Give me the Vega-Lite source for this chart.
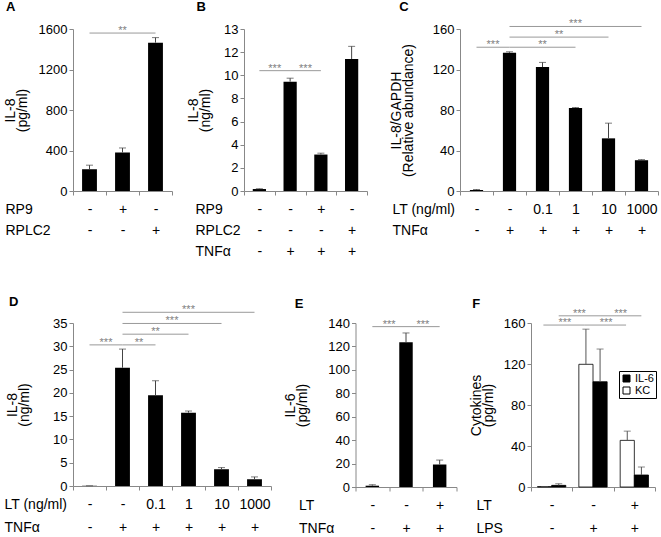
{
  "$schema": "https://vega.github.io/schema/vega-lite/v6.json",
  "padding": {"left": 3, "top": 0, "right": 0, "bottom": 0},
  "config": {
    "font": "Liberation Sans",
    "view": {"stroke": null},
    "axis": {"grid": false, "domainColor": "#888", "tickColor": "#888", "labelColor": "#000", "titleColor": "#000", "titleFontWeight": "normal", "titleFontSize": 14, "labelFontSize": 13, "tickSize": 4},
    "axisY": {"labelPadding": 2, "titleLineHeight": 12, "labelOverlap": false, "tickCount": 20},
    "axisX": {"labelAngle": 0, "labelFontSize": 14, "tickBand": "extent", "labelPadding": 7, "titleAlign": "left", "titleBaseline": "top", "titleAngle": 0, "titleY": 11, "titleFontSize": 14},
    "title": {"fontSize": 13, "fontWeight": "bold", "anchor": "start", "color": "#000", "frame": "bounds"},
    "text": {"fontSize": 11, "color": "#808080", "baseline": "alphabetic", "dy": 1},
    "legend": {"labelFontSize": 12}
  },
  "spacing": 37,
  "resolve": {"legend": {"color": "independent"}},
  "vconcat": [
    {
      "spacing": 21,
      "hconcat": [
        {
          "spacing": 13,
          "hconcat": [
            {
              "title": {"text": "A", "dx": 3, "offset": 9.5},
              "width": 99, "height": 162,
              "data": {"values": [
                {"cond": "-|-", "v": 215, "hi": 255},
                {"cond": "+|-", "v": 380, "hi": 425},
                {"cond": "-|+", "v": 1465, "hi": 1515}
              ]},
              "layer": [
                {"mark": {"type": "bar", "color": "black", "width": {"band": 0.45}},
                 "encoding": {
                   "x": {"field": "cond", "type": "nominal", "scale": {"domain": ["-|-", "+|-", "-|+"], "paddingInner": 0, "paddingOuter": 0},
                         "axis": {"title": ["RP9", "RPLC2"], "labelExpr": "split(datum.label, '|')", "labelLineHeight": 21, "titleLineHeight": 21, "titleX": -68}},
                   "y": {"field": "v", "type": "quantitative", "scale": {"domain": [0, 1600], "nice": false},
                         "axis": {"title": ["IL-8", "(pg/ml)"], "values": [0, 400, 800, 1200, 1600], "tickCount": 20, "format": "d", "labelOverlap": false, "titlePadding": 9}}}},
                {"mark": {"type": "rule", "color": "#444"},
                 "encoding": {"x": {"field": "cond", "type": "nominal"}, "y": {"field": "v", "type": "quantitative"}, "y2": {"field": "hi"}}},
                {"mark": {"type": "tick", "color": "#444", "size": 7, "thickness": 1},
                 "encoding": {"x": {"field": "cond", "type": "nominal"}, "y": {"field": "hi", "type": "quantitative"}}},
                {"data": {"values": [{"from": "-|-", "to": "-|+", "y": 1560, "s": "**", "at": "+|-", "mid": "center"}]},
                 "layer": [
                   {"mark": {"type": "rule", "color": "#999"},
                    "encoding": {"x": {"field": "from", "type": "nominal", "bandPosition": 0.5}, "x2": {"field": "to", "bandPosition": 0.5}, "y": {"field": "y", "type": "quantitative"}}},
                   {"mark": {"type": "text"},
                    "encoding": {"x": {"field": "at", "type": "nominal", "bandPosition": 0.5}, "y": {"field": "y", "type": "quantitative"}, "text": {"field": "s"}}}
                 ]}
              ]
            },
            {
              "title": {"text": "B", "dx": 10, "offset": 9.5},
              "width": 123, "height": 162,
              "data": {"values": [
                {"cond": "-|-|-", "v": 0.17, "hi": 0.2},
                {"cond": "-|-|+", "v": 9.45, "hi": 9.75},
                {"cond": "+|-|+", "v": 3.15, "hi": 3.27},
                {"cond": "-|+|+", "v": 11.4, "hi": 12.5}
              ]},
              "layer": [
                {"mark": {"type": "bar", "color": "black", "width": {"band": 0.43}},
                 "encoding": {
                   "x": {"field": "cond", "type": "nominal", "scale": {"domain": ["-|-|-", "-|-|+", "+|-|+", "-|+|+"], "paddingInner": 0, "paddingOuter": 0},
                         "axis": {"title": ["RP9", "RPLC2", "TNFα"], "labelExpr": "split(datum.label, '|')", "labelLineHeight": 21, "titleLineHeight": 21, "titleX": -49}},
                   "y": {"field": "v", "type": "quantitative", "scale": {"domain": [0, 14], "nice": false},
                         "axis": {"title": ["IL-8", "(ng/ml)"], "values": [0, 2, 4, 6, 8, 10, 12, 14], "tickCount": 20, "format": "d", "labelExpr": "datum.value == 14 ? '13' : datum.label", "labelOverlap": false, "titlePadding": 11}}}},
                {"mark": {"type": "rule", "color": "#444"},
                 "encoding": {"x": {"field": "cond", "type": "nominal"}, "y": {"field": "v", "type": "quantitative"}, "y2": {"field": "hi"}}},
                {"mark": {"type": "tick", "color": "#444", "size": 7, "thickness": 1},
                 "encoding": {"x": {"field": "cond", "type": "nominal"}, "y": {"field": "hi", "type": "quantitative"}}},
                {"data": {"values": [
                  {"from": "-|-|-", "to": "-|-|+", "y": 10.4, "s": "***", "at": "-|-|+", "mid": "edge"},
                  {"from": "-|-|+", "to": "+|-|+", "y": 10.4, "s": "***", "at": "+|-|+", "mid": "edge"}
                 ]},
                 "layer": [
                   {"mark": {"type": "rule", "color": "#999"},
                    "encoding": {"x": {"field": "from", "type": "nominal", "bandPosition": 0.5}, "x2": {"field": "to", "bandPosition": 0.5}, "y": {"field": "y", "type": "quantitative"}}},
                   {"mark": {"type": "text"},
                    "encoding": {"x": {"field": "at", "type": "nominal", "bandPosition": 0}, "y": {"field": "y", "type": "quantitative"}, "text": {"field": "s"}}}
                 ]}
              ]
            }
          ]
        },
        {
          "title": {"text": "C", "dx": 10, "offset": 4.5},
          "width": 198, "height": 162,
          "data": {"values": [
            {"cond": "-|-", "v": 1, "hi": 1.5},
            {"cond": "-|+", "v": 136.5, "hi": 137.5},
            {"cond": "0.1|+", "v": 122.4, "hi": 127},
            {"cond": "1|+", "v": 82, "hi": 82.5},
            {"cond": "10|+", "v": 52, "hi": 67},
            {"cond": "1000|+", "v": 30.4, "hi": 31}
          ]},
          "layer": [
            {"mark": {"type": "bar", "color": "black", "width": {"band": 0.4}},
             "encoding": {
               "x": {"field": "cond", "type": "nominal", "scale": {"domain": ["-|-", "-|+", "0.1|+", "1|+", "10|+", "1000|+"], "paddingInner": 0, "paddingOuter": 0},
                     "axis": {"title": ["LT (ng/ml)", "TNFα"], "labelExpr": "split(datum.label, '|')", "labelLineHeight": 21, "titleLineHeight": 21, "titleX": -68}},
               "y": {"field": "v", "type": "quantitative", "scale": {"domain": [0, 160], "nice": false},
                     "axis": {"title": ["IL-8/GAPDH", "(Relative abundance)"], "values": [0, 40, 80, 120, 160], "tickCount": 20, "format": "d", "labelOverlap": false, "titlePadding": 17}}}},
            {"mark": {"type": "rule", "color": "#444"},
             "encoding": {"x": {"field": "cond", "type": "nominal"}, "y": {"field": "v", "type": "quantitative"}, "y2": {"field": "hi"}}},
            {"mark": {"type": "tick", "color": "#444", "size": 7, "thickness": 1},
             "encoding": {"x": {"field": "cond", "type": "nominal"}, "y": {"field": "hi", "type": "quantitative"}}},
            {"data": {"values": [
              {"from": "-|-", "to": "-|+", "y": 142, "s": "***", "at": "-|+", "mid": "edge"},
              {"from": "-|+", "to": "1|+", "y": 142, "s": "**", "at": "0.1|+", "mid": "center"},
              {"from": "-|+", "to": "10|+", "y": 152, "s": "**", "at": "1|+", "mid": "edge"},
              {"from": "-|+", "to": "1000|+", "y": 162.5, "s": "***", "at": "1|+", "mid": "center"}
             ]},
             "layer": [
               {"mark": {"type": "rule", "color": "#999"},
                "encoding": {"x": {"field": "from", "type": "nominal", "bandPosition": 0.5}, "x2": {"field": "to", "bandPosition": 0.5}, "y": {"field": "y", "type": "quantitative"}}},
               {"transform": [{"filter": "datum.mid == 'center'"}], "mark": {"type": "text"},
                "encoding": {"x": {"field": "at", "type": "nominal", "bandPosition": 0.5}, "y": {"field": "y", "type": "quantitative"}, "text": {"field": "s"}}},
               {"transform": [{"filter": "datum.mid == 'edge'"}], "mark": {"type": "text"},
                "encoding": {"x": {"field": "at", "type": "nominal", "bandPosition": 0}, "y": {"field": "y", "type": "quantitative"}, "text": {"field": "s"}}}
             ]}
          ]
        }
      ]
    },
    {
      "spacing": 11.5,
      "resolve": {"legend": {"color": "independent"}},
      "hconcat": [
        {
          "title": {"text": "D", "dx": 5, "offset": -4.5},
          "width": 198, "height": 163,
          "data": {"values": [
            {"cond": "-|-", "v": 0.05, "hi": 0.05},
            {"cond": "-|+", "v": 25.4, "hi": 29.4},
            {"cond": "0.1|+", "v": 19.5, "hi": 22.6},
            {"cond": "1|+", "v": 15.75, "hi": 16.1},
            {"cond": "10|+", "v": 3.6, "hi": 3.95},
            {"cond": "1000|+", "v": 1.45, "hi": 1.95}
          ]},
          "layer": [
            {"mark": {"type": "bar", "color": "black", "width": {"band": 0.45}},
             "encoding": {
               "x": {"field": "cond", "type": "nominal", "scale": {"domain": ["-|-", "-|+", "0.1|+", "1|+", "10|+", "1000|+"], "paddingInner": 0, "paddingOuter": 0},
                     "axis": {"title": ["LT (ng/ml)", "TNFα"], "labelExpr": "split(datum.label, '|')", "labelLineHeight": 23, "titleLineHeight": 23, "titleX": -69}},
               "y": {"field": "v", "type": "quantitative", "scale": {"domain": [0, 35], "nice": false},
                     "axis": {"title": ["IL-8", "(ng/ml)"], "values": [0, 5, 10, 15, 20, 25, 30, 35], "tickCount": 20, "format": "d", "labelOverlap": false, "titlePadding": 21}}}},
            {"mark": {"type": "rule", "color": "#444"},
             "encoding": {"x": {"field": "cond", "type": "nominal"}, "y": {"field": "v", "type": "quantitative"}, "y2": {"field": "hi"}}},
            {"mark": {"type": "tick", "color": "#444", "size": 7, "thickness": 1},
             "encoding": {"x": {"field": "cond", "type": "nominal"}, "y": {"field": "hi", "type": "quantitative"}}},
            {"data": {"values": [
              {"from": "-|-", "to": "-|+", "y": 30.3, "s": "***", "at": "-|+", "mid": "edge"},
              {"from": "-|+", "to": "0.1|+", "y": 30.3, "s": "**", "at": "0.1|+", "mid": "edge"},
              {"from": "-|+", "to": "1|+", "y": 32.6, "s": "**", "at": "0.1|+", "mid": "center"},
              {"from": "-|+", "to": "10|+", "y": 34.9, "s": "***", "at": "1|+", "mid": "edge"},
              {"from": "-|+", "to": "1000|+", "y": 37.3, "s": "***", "at": "1|+", "mid": "center"}
             ]},
             "layer": [
               {"mark": {"type": "rule", "color": "#999"},
                "encoding": {"x": {"field": "from", "type": "nominal", "bandPosition": 0.5}, "x2": {"field": "to", "bandPosition": 0.5}, "y": {"field": "y", "type": "quantitative"}}},
               {"transform": [{"filter": "datum.mid == 'center'"}], "mark": {"type": "text"},
                "encoding": {"x": {"field": "at", "type": "nominal", "bandPosition": 0.5}, "y": {"field": "y", "type": "quantitative"}, "text": {"field": "s"}}},
               {"transform": [{"filter": "datum.mid == 'edge'"}], "mark": {"type": "text"},
                "encoding": {"x": {"field": "at", "type": "nominal", "bandPosition": 0}, "y": {"field": "y", "type": "quantitative"}, "text": {"field": "s"}}}
             ]}
          ]
        },
        {
          "title": {"text": "E", "dx": 11, "offset": 6},
          "width": 101, "height": 164,
          "data": {"values": [
            {"cond": "-|-", "v": 1.1, "hi": 2},
            {"cond": "-|+", "v": 123.5, "hi": 131.5},
            {"cond": "+|+", "v": 19.2, "hi": 23}
          ]},
          "layer": [
            {"mark": {"type": "bar", "color": "black", "width": {"band": 0.4}},
             "encoding": {
               "x": {"field": "cond", "type": "nominal", "scale": {"domain": ["-|-", "-|+", "+|+"], "paddingInner": 0, "paddingOuter": 0},
                     "axis": {"title": ["LT", "TNFα"], "labelExpr": "split(datum.label, '|')", "labelLineHeight": 23, "titleLineHeight": 23, "titleX": -57}},
               "y": {"field": "v", "type": "quantitative", "scale": {"domain": [0, 140], "nice": false},
                     "axis": {"title": ["IL-6", "(pg/ml)"], "values": [0, 20, 40, 60, 80, 100, 120, 140], "tickCount": 20, "format": "d", "labelOverlap": false, "titlePadding": 18}}}},
            {"mark": {"type": "rule", "color": "#444"},
             "encoding": {"x": {"field": "cond", "type": "nominal"}, "y": {"field": "v", "type": "quantitative"}, "y2": {"field": "hi"}}},
            {"mark": {"type": "tick", "color": "#444", "size": 7, "thickness": 1},
             "encoding": {"x": {"field": "cond", "type": "nominal"}, "y": {"field": "hi", "type": "quantitative"}}},
            {"data": {"values": [
              {"from": "-|-", "to": "-|+", "y": 136.9, "s": "***", "at": "-|+", "mid": "edge"},
              {"from": "-|+", "to": "+|+", "y": 136.9, "s": "***", "at": "+|+", "mid": "edge"}
             ]},
             "layer": [
               {"mark": {"type": "rule", "color": "#999"},
                "encoding": {"x": {"field": "from", "type": "nominal", "bandPosition": 0.5}, "x2": {"field": "to", "bandPosition": 0.5}, "y": {"field": "y", "type": "quantitative"}}},
               {"mark": {"type": "text"},
                "encoding": {"x": {"field": "at", "type": "nominal", "bandPosition": 0}, "y": {"field": "y", "type": "quantitative"}, "text": {"field": "s"}}}
             ]}
          ]
        },
        {
          "title": {"text": "F", "dx": 3, "offset": -3},
          "width": 124, "height": 164,
          "data": {"values": [
            {"cond": "-|-", "series": "KC", "v": 0.4, "hi": 0.4},
            {"cond": "-|-", "series": "IL-6", "v": 1.6, "hi": 3.2},
            {"cond": "-|+", "series": "KC", "v": 119.7, "hi": 154},
            {"cond": "-|+", "series": "IL-6", "v": 102.7, "hi": 134.6},
            {"cond": "+|+", "series": "KC", "v": 45.5, "hi": 54.5},
            {"cond": "+|+", "series": "IL-6", "v": 11.7, "hi": 19.5}
          ]},
          "layer": [
            {"mark": {"type": "bar", "stroke": "black", "strokeWidth": 0.8},
             "encoding": {
               "x": {"field": "cond", "type": "nominal", "scale": {"domain": ["-|-", "-|+", "+|+"], "paddingInner": 0, "paddingOuter": 0},
                     "axis": {"title": ["LT", "LPS"], "labelExpr": "split(datum.label, '|')", "labelLineHeight": 23, "titleLineHeight": 23, "titleX": -55}},
               "xOffset": {"field": "series", "type": "nominal", "scale": {"domain": ["KC", "IL-6"], "paddingInner": 0, "paddingOuter": 0.46}},
               "y": {"field": "v", "type": "quantitative", "scale": {"domain": [0, 160], "nice": false},
                     "axis": {"title": ["Cytokines", "(pg/ml)"], "values": [0, 40, 80, 120, 160], "tickCount": 20, "format": "d", "labelOverlap": false, "titlePadding": 8}},
               "color": {"field": "series", "type": "nominal", "scale": {"domain": ["IL-6", "KC"], "range": ["black", "white"]},
                         "legend": {"title": null, "orient": "none", "legendX": 88, "legendY": 48, "strokeColor": "black", "padding": 2, "symbolType": "square", "symbolSize": 49, "symbolStrokeColor": "black", "symbolStrokeWidth": 1, "labelFontSize": 11, "rowPadding": 0, "labelOffset": 3}}}},
            {"mark": {"type": "rule", "color": "#555"},
             "encoding": {"x": {"field": "cond", "type": "nominal"}, "xOffset": {"field": "series", "type": "nominal"}, "y": {"field": "v", "type": "quantitative"}, "y2": {"field": "hi"}}},
            {"mark": {"type": "tick", "color": "#555", "size": 7, "thickness": 1},
             "encoding": {"x": {"field": "cond", "type": "nominal"}, "xOffset": {"field": "series", "type": "nominal"}, "y": {"field": "hi", "type": "quantitative"}}},
            {"data": {"values": [
              {"from": "-|-", "to": "-|+", "y": 158, "s": "***", "series": "KC"},
              {"from": "-|+", "to": "+|+", "y": 158, "s": "***", "series": "KC"},
              {"from": "-|-", "to": "-|+", "y": 167, "s": "***", "series": "IL-6"},
              {"from": "-|+", "to": "+|+", "y": 167, "s": "***", "series": "IL-6"}
             ]},
             "layer": [
               {"transform": [{"filter": "datum.series == 'KC'"}], "mark": {"type": "rule", "color": "#999"},
                "encoding": {"x": {"field": "from", "type": "nominal", "bandPosition": 0.3}, "x2": {"field": "to", "bandPosition": 0.3}, "y": {"field": "y", "type": "quantitative"}}},
               {"transform": [{"filter": "datum.series == 'IL-6'"}], "mark": {"type": "rule", "color": "#999"},
                "encoding": {"x": {"field": "from", "type": "nominal", "bandPosition": 0.67}, "x2": {"field": "to", "bandPosition": 0.67}, "y": {"field": "y", "type": "quantitative"}}},
               {"transform": [{"filter": "datum.series == 'KC'"}], "mark": {"type": "text"},
                "encoding": {"x": {"field": "from", "type": "nominal", "bandPosition": 0.82}, "y": {"field": "y", "type": "quantitative"}, "text": {"field": "s"}}},
               {"transform": [{"filter": "datum.series == 'IL-6'"}], "mark": {"type": "text"},
                "encoding": {"x": {"field": "to", "type": "nominal", "bandPosition": 0.17}, "y": {"field": "y", "type": "quantitative"}, "text": {"field": "s"}}}
             ]}
          ]
        }
      ]
    }
  ]
}
